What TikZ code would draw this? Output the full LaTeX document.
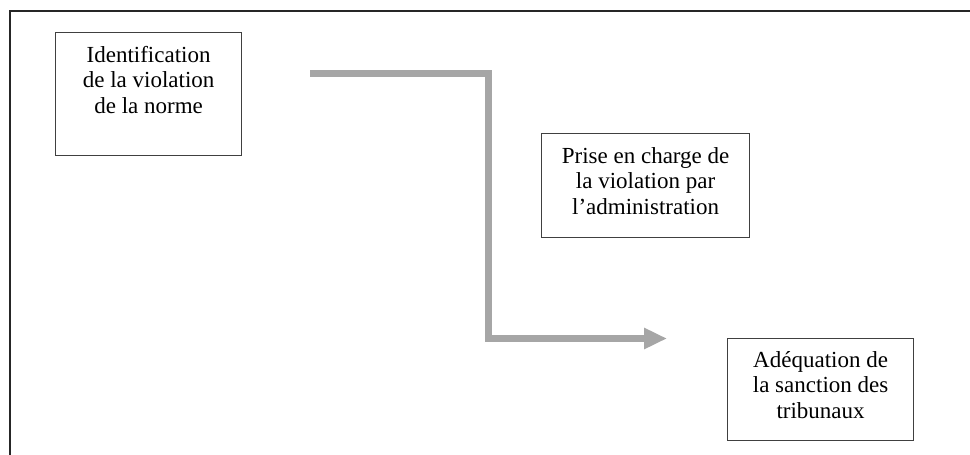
\documentclass[tikz,border=0pt]{standalone}
\usepackage{fontspec}
\setmainfont{Liberation Serif}
\usepackage{tikz}
\usetikzlibrary{arrows.meta,positioning}
\tikzset{
  boxnode/.style={draw=black!75, line width=1.2pt, rectangle, inner sep=0pt, anchor=north west},
  boxtext/.style={align=center, inner sep=0pt, font=\fontsize{23}{25.5}\selectfont},
  flowarrow/.style={draw=black!35, line width=7pt, -{Triangle[length=23pt,width=20pt]}}
}

\begin{document}
\begin{tikzpicture}[x=1pt, y=-1pt]
  \useasboundingbox (0,0) rectangle (970,455);
  % frame
  \draw[line width=2pt, black!85] (970,11) -- (10,11) -- (10,455);
  % boxes
  \node[boxnode, minimum width=186pt, minimum height=123pt] (ident) at (55,32) {};
  \node[boxtext, below=14pt of ident.north] (identtext) {Identification\\de la violation\\de la norme};
  \node[boxnode, minimum width=208pt, minimum height=104pt] (prise) at (541,133) {};
  \node[boxtext, below=14pt of prise.north] (prisetext) {Prise en charge de\\la violation par\\l’administration};
  \node[boxnode, minimum width=186pt, minimum height=102pt] (adeq) at (727,338) {};
  \node[boxtext, below=13pt of adeq.north] (adeqtext) {Adéquation de\\la sanction des\\tribunaux};
  % arrow
  \coordinate (a1) at (310,73.7);
  \coordinate (a2) at (488.5,73.7);
  \coordinate (a3) at (488.5,338.5);
  \coordinate (a4) at (667,338.5);
  \draw[flowarrow] (a1) -- (a2) -- (a3) -- (a4);
\end{tikzpicture}
\end{document}
